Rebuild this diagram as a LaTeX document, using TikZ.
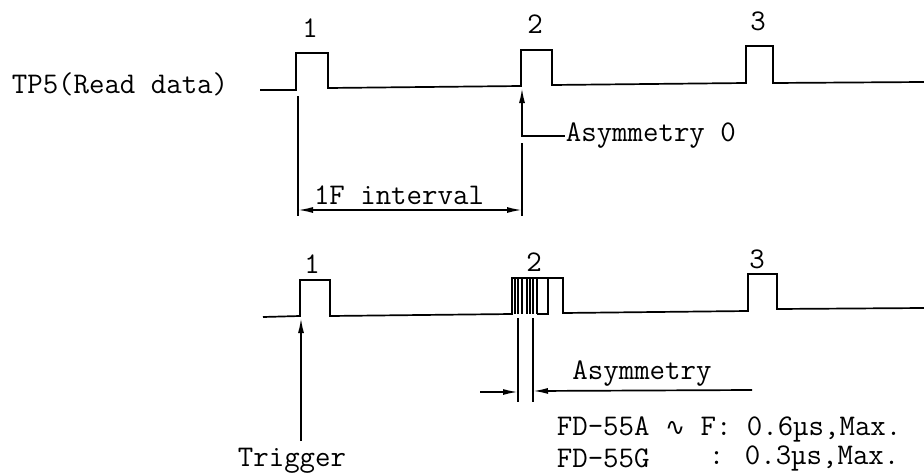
\documentclass[tikz,border=0pt]{standalone}
\usepackage{fontspec}
\newfontfamily\symf{DejaVu Sans}
\usetikzlibrary{arrows.meta}
\begin{document}
\begin{tikzpicture}[x=1pt,y=-1pt,line width=1.7pt,
  lbl/.style={font=\fontsize{30}{32}\selectfont\ttfamily\addfontfeature{FakeBold=1.2},inner sep=0pt},
  tip/.style={-{Latex[length=15pt,width=6pt]}},
  tipback/.style={{Latex[length=15pt,width=6pt]}-},
  both/.style={{Latex[length=15pt,width=6pt]}-{Latex[length=15pt,width=6pt]}},
  jit/.style={line width=1.1pt},
  ext/.style={line width=1.4pt}]
\useasboundingbox (0,0) rectangle (924,474);
% ---------- top trace ----------
\node[lbl] (tp5) at (120,84) {TP5(Read data)};
\draw (260,90) -- (296,90) -- (296,53) -- (328,53) -- (328,88) -- (521,86)
  -- (521,50) -- (552,50) -- (552,85) -- (746,83) -- (746,46) -- (773,46)
  -- (773,83) -- (924,82);
\node[lbl] (n1a) at (310,28) {1};
\node[lbl] (n2a) at (535,24) {2};
\node[lbl] (n3a) at (758,21) {3};
\coordinate (p2foot) at (522,88);
\node[lbl,anchor=west] (asym0) at (565,136) {Asymmetry 0};
\draw[tipback] (p2foot) |- (asym0.west);
% 1F interval
\coordinate (e1t) at (298,96);
\coordinate (e1b) at (298,216);
\coordinate (e2t) at (522,143);
\coordinate (e2b) at (522,216);
\draw[ext] (e1t) -- (e1b);
\draw[ext] (e2t) -- (e2b);
\node[lbl] (ifl) at (399,195) {1F interval};
\draw[both] (298,210) -- (522,210);
% ---------- bottom trace ----------
\draw (263,317) -- (300,316) -- (300,280) -- (330,280) -- (330,316) -- (512,314)
  -- (512,278) -- (563,278) -- (563,313) -- (748,311) -- (748,274) -- (777,274)
  -- (777,309) -- (924,308);
\foreach \x in {515,518,522,527,530,533,537} \draw[jit] (\x,278) -- (\x,314);
\draw (537,314) -- (548,314) -- (548,278);
\node[lbl] (n1b) at (312,264) {1};
\node[lbl] (n2b) at (534,262) {2};
\node[lbl] (n3b) at (757,259) {3};
% trigger
\node[lbl] (trig) at (292,461) {Trigger};
\coordinate (trigfoot) at (301,318);
\draw[tip] (301,441) -- (trigfoot);
% asymmetry dimension
\draw[ext] (518,318) -- (518,402);
\draw[ext] (533,318) -- (533,402);
\draw[tip] (480,392) -- (518,392);
\draw[tipback] (533,391) -- (752,390);
\node[lbl] (asym) at (642,374) {Asymmetry};
\node[lbl,anchor=west] (fdA) at (556,429) {FD-55A {\symf\fontsize{24}{26}\selectfont ∿} F: 0.6µs,Max.};
\node[lbl,anchor=west] (fdG) at (556,458) {FD-55G};
\node[lbl,anchor=west] (fdGv) at (708,458) {: 0.3µs,Max.};
\end{tikzpicture}
\end{document}
